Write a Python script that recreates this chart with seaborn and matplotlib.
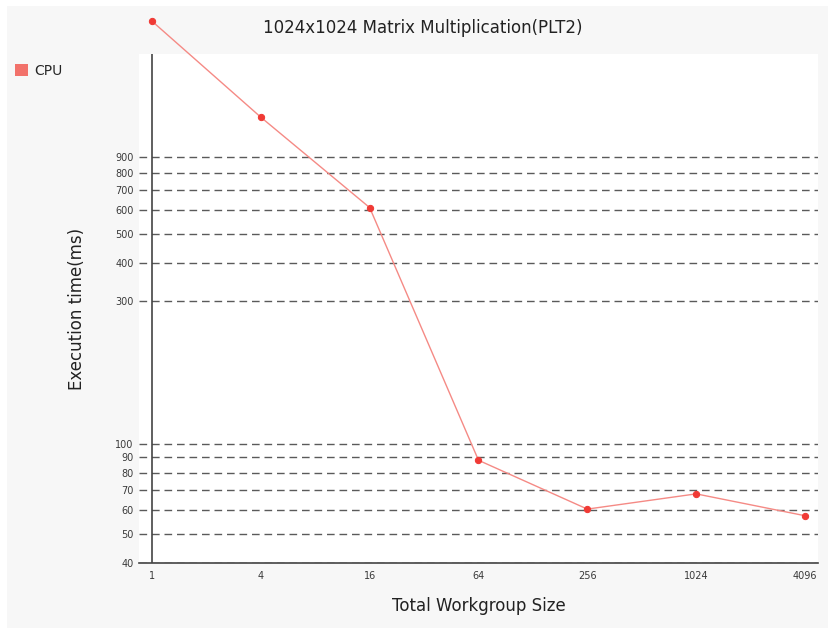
import numpy as np
import pandas as pd
import matplotlib
matplotlib.use("Agg")
import matplotlib.pyplot as plt
from matplotlib.patches import Rectangle, Patch
from matplotlib.ticker import NullLocator, FixedLocator, FixedFormatter
import seaborn as sns

# ---- data ----
workgroup_sizes = [1, 4, 16, 64, 256, 1024, 4096]
cpu_times = [2560, 1225, 612, 88, 60.5, 68, 57.5]
x_tick_labels = ["1", "4", "16", "64", "256", "1024", "4096"]
y_ticks = [40, 50, 60, 70, 80, 90, 100, 300, 400, 500, 600, 700, 800, 900]
y_tick_labels = [str(v) for v in y_ticks]
series_name = "CPU"
title = "1024x1024 Matrix Multiplication(PLT2)"
x_label = "Total Workgroup Size"
y_label = "Execution time(ms)"

sns.set_style("white")
plt.rcParams["font.family"] = ["DejaVu Sans"]

fig = plt.figure(figsize=(8.29, 6.28), dpi=100)
fig.patch.set_facecolor("white")
# grey panel background
fig.patches.append(Rectangle((7 / 829, 0), 1 - 7 / 829, 1 - 6 / 628,
                             transform=fig.transFigure, facecolor="#f7f7f7",
                             edgecolor="none", zorder=-10))

ax = fig.add_axes([139 / 829, 1 - 563 / 628, (818 - 139) / 829, (563 - 54) / 628])
ax.set_facecolor("white")

df = pd.DataFrame({"size": workgroup_sizes, "time": cpu_times, "series": series_name})
sns.lineplot(data=df, x="size", y="time", ax=ax, color="#f58a85", linewidth=1.0,
             marker="o", markersize=4.5, markerfacecolor="#f03a35",
             markeredgecolor="#f03a35", legend=False)
for ln in ax.lines:
    ln.set_clip_on(False)
    ln.set_zorder(5)

ax.set_xscale("log", base=2)
ax.set_yscale("log")
ax.set_xlim(2 ** -0.239, 2 ** 12.239)
ax.set_ylim(40, 1990)

ax.xaxis.set_major_locator(FixedLocator(workgroup_sizes))
ax.xaxis.set_major_formatter(FixedFormatter(x_tick_labels))
ax.xaxis.set_minor_locator(NullLocator())
ax.yaxis.set_major_locator(FixedLocator(y_ticks))
ax.yaxis.set_major_formatter(FixedFormatter(y_tick_labels))
ax.yaxis.set_minor_locator(NullLocator())

ax.tick_params(axis="both", length=0, labelsize=7, colors="#3a3a3a")
ax.tick_params(axis="x", pad=6)
ax.tick_params(axis="y", pad=4)

for yv in y_ticks:
    ax.axhline(yv, color="#5a5a5a", linewidth=1.0, linestyle=(0, (5.5, 3.5)), zorder=1)

ax.axvline(1, color="#444444", linewidth=1.2, zorder=2)

for s in ["top", "right", "left"]:
    ax.spines[s].set_visible(False)
ax.spines["bottom"].set_color("#444444")
ax.spines["bottom"].set_linewidth(1.2)

ax.set_xlabel(x_label, fontsize=12, color="#222222")
ax.set_ylabel(y_label, fontsize=12, color="#222222")
ax.yaxis.set_label_coords(-0.078, 0.5)
ax.xaxis.set_label_coords(0.5, -0.066)

fig.text(0.51, 1 - 28 / 628, title, ha="center", va="center", fontsize=12, color="#222222")

handle = Patch(facecolor="#f2726b", edgecolor="none")
fig.legend([handle], [series_name], loc="upper left",
           bbox_to_anchor=(9 / 829, 1 - 58 / 628), frameon=False,
           fontsize=10, handlelength=1.0, handleheight=1.0, handletextpad=0.4,
           borderaxespad=0)

fig.savefig("out.png", dpi=100, facecolor=fig.get_facecolor())
